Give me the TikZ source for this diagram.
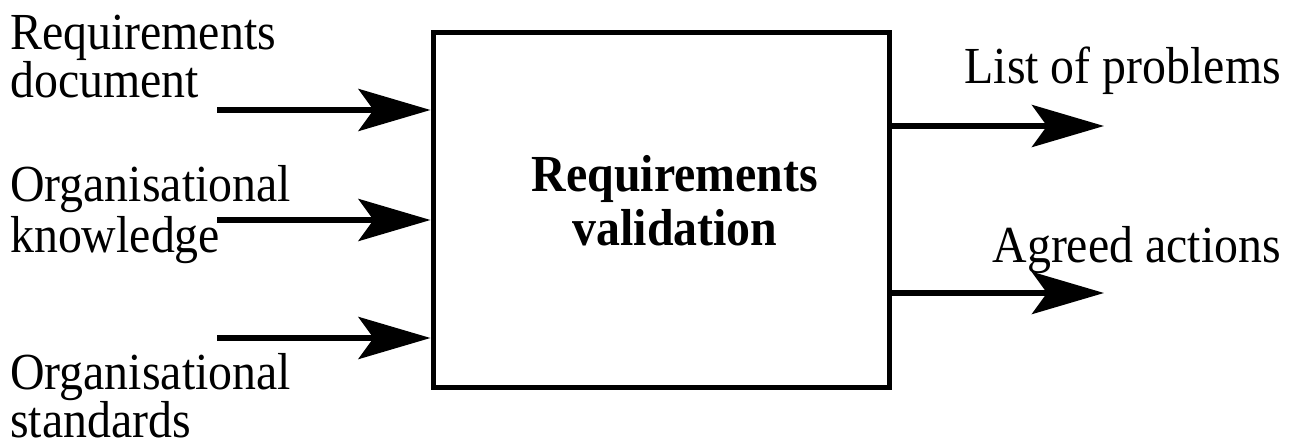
\documentclass[tikz,border=0pt]{standalone}
\usepackage{fontspec}
\setmainfont{Liberation Serif}
\newfontfamily\condserif[FakeStretch=0.92]{Liberation Serif}
\usetikzlibrary{arrows.meta}
\tikzset{
  lbl/.style={anchor=base west, inner sep=0pt, font=\condserif\fontsize{52}{52}\selectfont},
  rlbl/.style={anchor=base east, inner sep=0pt, font=\condserif\fontsize{52}{52}\selectfont},
  blbl/.style={anchor=base, inner sep=0pt, font=\condserif\bfseries\fontsize{52}{52}\selectfont},
  procbox/.style={draw, line width=5pt, minimum width=456pt, minimum height=354pt, inner sep=0pt},
  flow/.style={line width=6pt, -{Stealth[length=72pt, width=42pt, inset=15pt]}}
}
\begin{document}
\begin{tikzpicture}[x=1pt, y=-1pt]
\useasboundingbox (0,0) rectangle (1289,446);
\node[procbox] (box) at (661,210) {};
\node[blbl] (t1) at (675,192) {Requirements};
\node[blbl] (t2) at (675,245) {validation};
% input labels
\node[lbl] (a1) at (10,50) {Requirements};
\node[lbl] (a2) at (10,98) {document};
\node[lbl] (b1) at (10,202) {Organisational};
\node[lbl] (b2) at (10,252) {knowledge};
\node[lbl] (c1) at (10,389) {Organisational};
\node[lbl] (c2) at (10,437) {standards};
% output labels
\node[rlbl] (o1) at (1281,84) {List of problems};
\node[rlbl] (o2) at (1281,262) {Agreed actions};
% arrow endpoints
\coordinate (ia) at (217,110);
\coordinate (ib) at (217,220);
\coordinate (ic) at (217,338);
\coordinate (oa) at (1104,126);
\coordinate (ob) at (1104,293);
\draw[flow] (ia) -- (box.west |- ia);
\draw[flow] (ib) -- (box.west |- ib);
\draw[flow] (ic) -- (box.west |- ic);
\draw[flow] (box.east |- oa) -- (oa);
\draw[flow] (box.east |- ob) -- (ob);
\end{tikzpicture}
\end{document}
